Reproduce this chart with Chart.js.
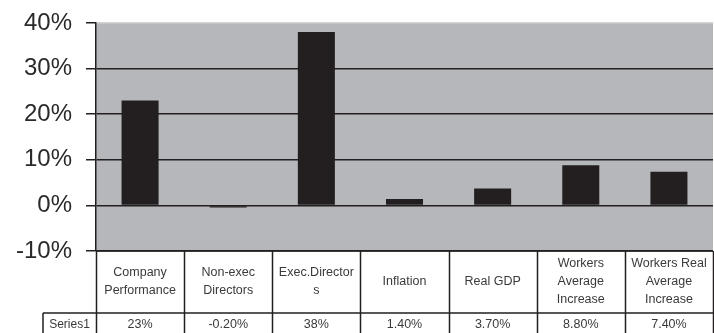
<!DOCTYPE html>
<html>
<head>
<meta charset="utf-8">
<script src="https://cdn.jsdelivr.net/npm/chart.js@4"></script>
<style>
  body { margin: 0; background: #fff; }
</style>
</head>
<body>
<canvas id="canvas" width="714" height="333"></canvas>
<script>
// values (percent)
const categories = [
    ['Company', 'Performance'],
    ['Non-exec', 'Directors'],
    ['Exec.Director', 's'],
    ['Inflation'],
    ['Real GDP'],
    ['Workers', 'Average', 'Increase'],
    ['Workers Real', 'Average', 'Increase']
];
const series1 = [23, -0.2, 38, 1.4, 3.7, 8.8, 7.4];
const tableText = ['23%', '-0.20%', '38%', '1.40%', '3.70%', '8.80%', '7.40%'];
const seriesName = 'Series1';
const yTicks = [-10, 0, 10, 20, 30, 40];

const ink = '#231f20';
const textGrey = '#3a3a3a';

// grey plot background
const plotBackground = {
    id: 'plotBackground',
    beforeDraw(chart) {
        const a = chart.chartArea;
        const ctx = chart.ctx;
        ctx.save();
        ctx.fillStyle = '#b6b7bb';
        ctx.fillRect(a.left, a.top, a.right - a.left, a.bottom - a.top);
        ctx.restore();
    }
};

// data table under the plot, columns taken from the x scale
const dataTable = {
    id: 'dataTable',
    afterDraw(chart) {
        const ctx = chart.ctx;
        const a = chart.chartArea;
        const x = chart.scales.x;
        const n = categories.length;
        const colW = (a.right - a.left) / n;
        const rowTop = a.bottom;
        const rowMid = 313;
        const rowEnd = chart.height;
        const labelLeft = 43;

        ctx.save();
        ctx.strokeStyle = ink;
        ctx.lineWidth = 1.5;
        ctx.beginPath();
        // top border of table
        ctx.moveTo(a.left, rowTop);
        ctx.lineTo(a.right, rowTop);
        // line between category row and series row
        ctx.moveTo(labelLeft, rowMid);
        ctx.lineTo(a.right, rowMid);
        // series name cell left edge
        ctx.moveTo(labelLeft, rowMid);
        ctx.lineTo(labelLeft, rowEnd);
        for (let i = 0; i <= n; i++) {
            const bx = Math.round(a.left + i * colW) + 0.5;
            ctx.moveTo(bx, rowTop);
            ctx.lineTo(bx, rowEnd);
        }
        ctx.stroke();

        ctx.fillStyle = textGrey;
        ctx.textAlign = 'center';
        ctx.textBaseline = 'middle';
        ctx.font = '12.5px "Liberation Sans", Arial, sans-serif';
        const lh = 18;
        categories.forEach((lines, i) => {
            const cx = x.getPixelForValue(i);
            const cy = (rowTop + rowMid) / 2;
            const start = cy - (lines.length - 1) * lh / 2;
            lines.forEach((t, j) => ctx.fillText(t, cx, start + j * lh));
            ctx.fillText(tableText[i], cx, 325);
        });
        ctx.font = '12px "Liberation Sans", Arial, sans-serif';
        ctx.fillText(seriesName, (labelLeft + a.left) / 2, 325);
        ctx.restore();
    }
};

function createVisualization() {
    const ctx = document.getElementById('canvas').getContext('2d');

    new Chart(ctx, {
        type: 'bar',
        data: {
            labels: categories,
            datasets: [{
                label: seriesName,
                data: series1,
                backgroundColor: ink,
                borderWidth: 0,
                minBarLength: 2,
                categoryPercentage: 1,
                barPercentage: 0.42
            }]
        },
        options: {
            responsive: false,
            animation: false,
            layout: {
                padding: { top: 23, bottom: 82, left: 0, right: 1 }
            },
            scales: {
                x: {
                    display: false
                },
                y: {
                    min: -10,
                    max: 40,
                    afterFit(scale) {
                        scale.width = 96;
                        scale.paddingTop = 0;
                        scale.paddingBottom = 0;
                    },
                    afterBuildTicks(scale) {
                        scale.ticks = yTicks.map(v => ({ value: v }));
                    },
                    border: { display: true, color: ink, width: 1.5 },
                    grid: {
                        color: c => c.tick && c.tick.value === 40 ? '#d4d4d6' : ink,
                        lineWidth: 1.5,
                        tickColor: ink,
                        tickLength: 10,
                        drawTicks: true
                    },
                    ticks: {
                        padding: 14,
                        color: '#2a2a2a',
                        font: { family: '"Liberation Sans", Arial, sans-serif', size: 24 },
                        callback: v => v + '%'
                    }
                }
            },
            plugins: {
                legend: { display: false },
                tooltip: { enabled: false }
            }
        },
        plugins: [plotBackground, dataTable]
    });
}

createVisualization();
</script>
</body>
</html>
